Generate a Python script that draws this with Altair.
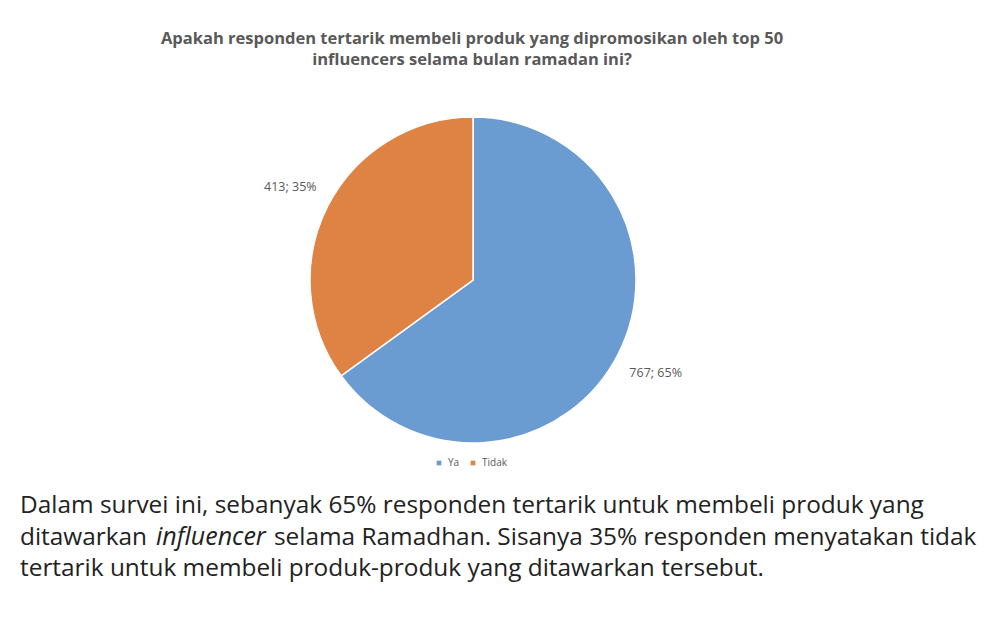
import altair as alt
import pandas as pd

categories = ["Ya", "Tidak"]
counts = [767, 413]
percents = ["65%", "35%"]
colors = ["#6A9BD1", "#DE8344"]

title_lines = [
    "Apakah responden tertarik membeli produk yang dipromosikan oleh top 50",
    "influencers selama bulan ramadan ini?",
]
para_line1 = "Dalam survei ini, sebanyak 65% responden tertarik untuk membeli produk yang"
para_line2_a = "ditawarkan"
para_line2_b = "influencer"
para_line2_c = "selama Ramadhan. Sisanya 35% responden menyatakan tidak"
para_line3 = "tertarik untuk membeli produk-produk yang ditawarkan tersebut."

df = pd.DataFrame({
    "kategori": categories,
    "jumlah": counts,
    "label": [f"{c}; {p}" for c, p in zip(counts, percents)],
    "urut": list(range(len(categories))),
})

CX, CY = 465, 272
FONT = "Open Sans"

base = alt.Chart(df).encode(
    theta=alt.Theta("jumlah:Q", stack=True),
    order=alt.Order("urut:O"),
)

pie = base.mark_arc(radius=163, stroke="white", strokeWidth=1.5).encode(
    x=alt.value(CX), y=alt.value(CY),
    color=alt.Color(
        "kategori:N",
        scale=alt.Scale(domain=categories, range=colors),
        sort=categories,
        legend=alt.Legend(
            title=None, orient="none", direction="horizontal",
            legendX=426, legendY=450, symbolType="square", symbolSize=22,
            labelFontSize=10, labelColor="#595959", labelFont=FONT,
            columnPadding=8, symbolStrokeWidth=0,
        ),
    ),
)

labels = base.mark_text(radius=205, fontSize=12.5, font=FONT, color="#595959").encode(
    x=alt.value(CX), y=alt.value(CY),
    text="label:N",
)

title_df = pd.DataFrame({"t": title_lines, "yy": [36, 57]})
title = alt.Chart(title_df).mark_text(
    font=FONT, fontSize=16.5, fontWeight="bold", color="#595959", align="center", baseline="alphabetic"
).encode(x=alt.value(464), y=alt.Y("yy:Q", scale=None), text="t:N")

def txt(s, x, y, italic=False, size=24.4):
    return alt.Chart(pd.DataFrame({"t": [s]})).mark_text(
        font=FONT, fontSize=size, color="#222222", align="left", baseline="alphabetic",
        fontStyle="italic" if italic else "normal",
    ).encode(x=alt.value(x), y=alt.value(y), text="t:N")

para = [
    txt(para_line1, 12, 505),
    txt(para_line2_a, 12, 537),
    txt(para_line2_b, 148, 537, italic=True, size=25),
    txt(para_line2_c, 266, 537),
    txt(para_line3, 12, 568),
]

chart = alt.layer(pie, labels, title, *para).properties(
    width=984, height=626, padding=0, autosize="none"
).configure_view(stroke=None)

chart.save("out.html", embed_options={"renderer": "svg", "actions": False})
